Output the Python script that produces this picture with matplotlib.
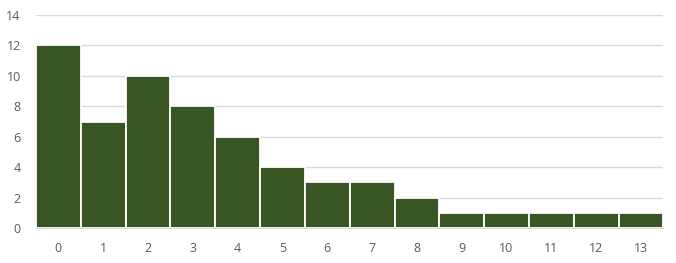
import numpy as np
import matplotlib.pyplot as plt

categories = [str(i) for i in range(14)]
counts = [12, 7, 10, 8, 6, 4, 3, 3, 2, 1, 1, 1, 1, 1]

plt.rcParams['font.family'] = ['Open Sans', 'DejaVu Sans']
fig = plt.figure(figsize=(6.76, 2.63), dpi=100)
ax = fig.add_axes([0.0533, 0.133, 0.928, 0.81])

x = np.arange(len(categories))
ax.bar(x, counts, width=1.0, color='#375623', edgecolor='white', linewidth=1.3, zorder=3)

ax.set_xlim(-0.5, len(categories) - 0.5)
ax.set_ylim(0, 14)
ax.set_yticks(np.arange(0, 15, 2))
ax.set_xticks(x)
ax.set_xticklabels(categories)

ax.grid(axis='y', color='#d9d9d9', linewidth=1, zorder=0)
for s in ['top', 'right', 'left']:
    ax.spines[s].set_visible(False)
ax.spines['bottom'].set_color('#d9d9d9')
ax.tick_params(axis='both', length=0, colors='#595959', labelsize=9)
ax.tick_params(axis='x', pad=10)
ax.tick_params(axis='y', pad=11)

fig.savefig('out.png', dpi=100)
